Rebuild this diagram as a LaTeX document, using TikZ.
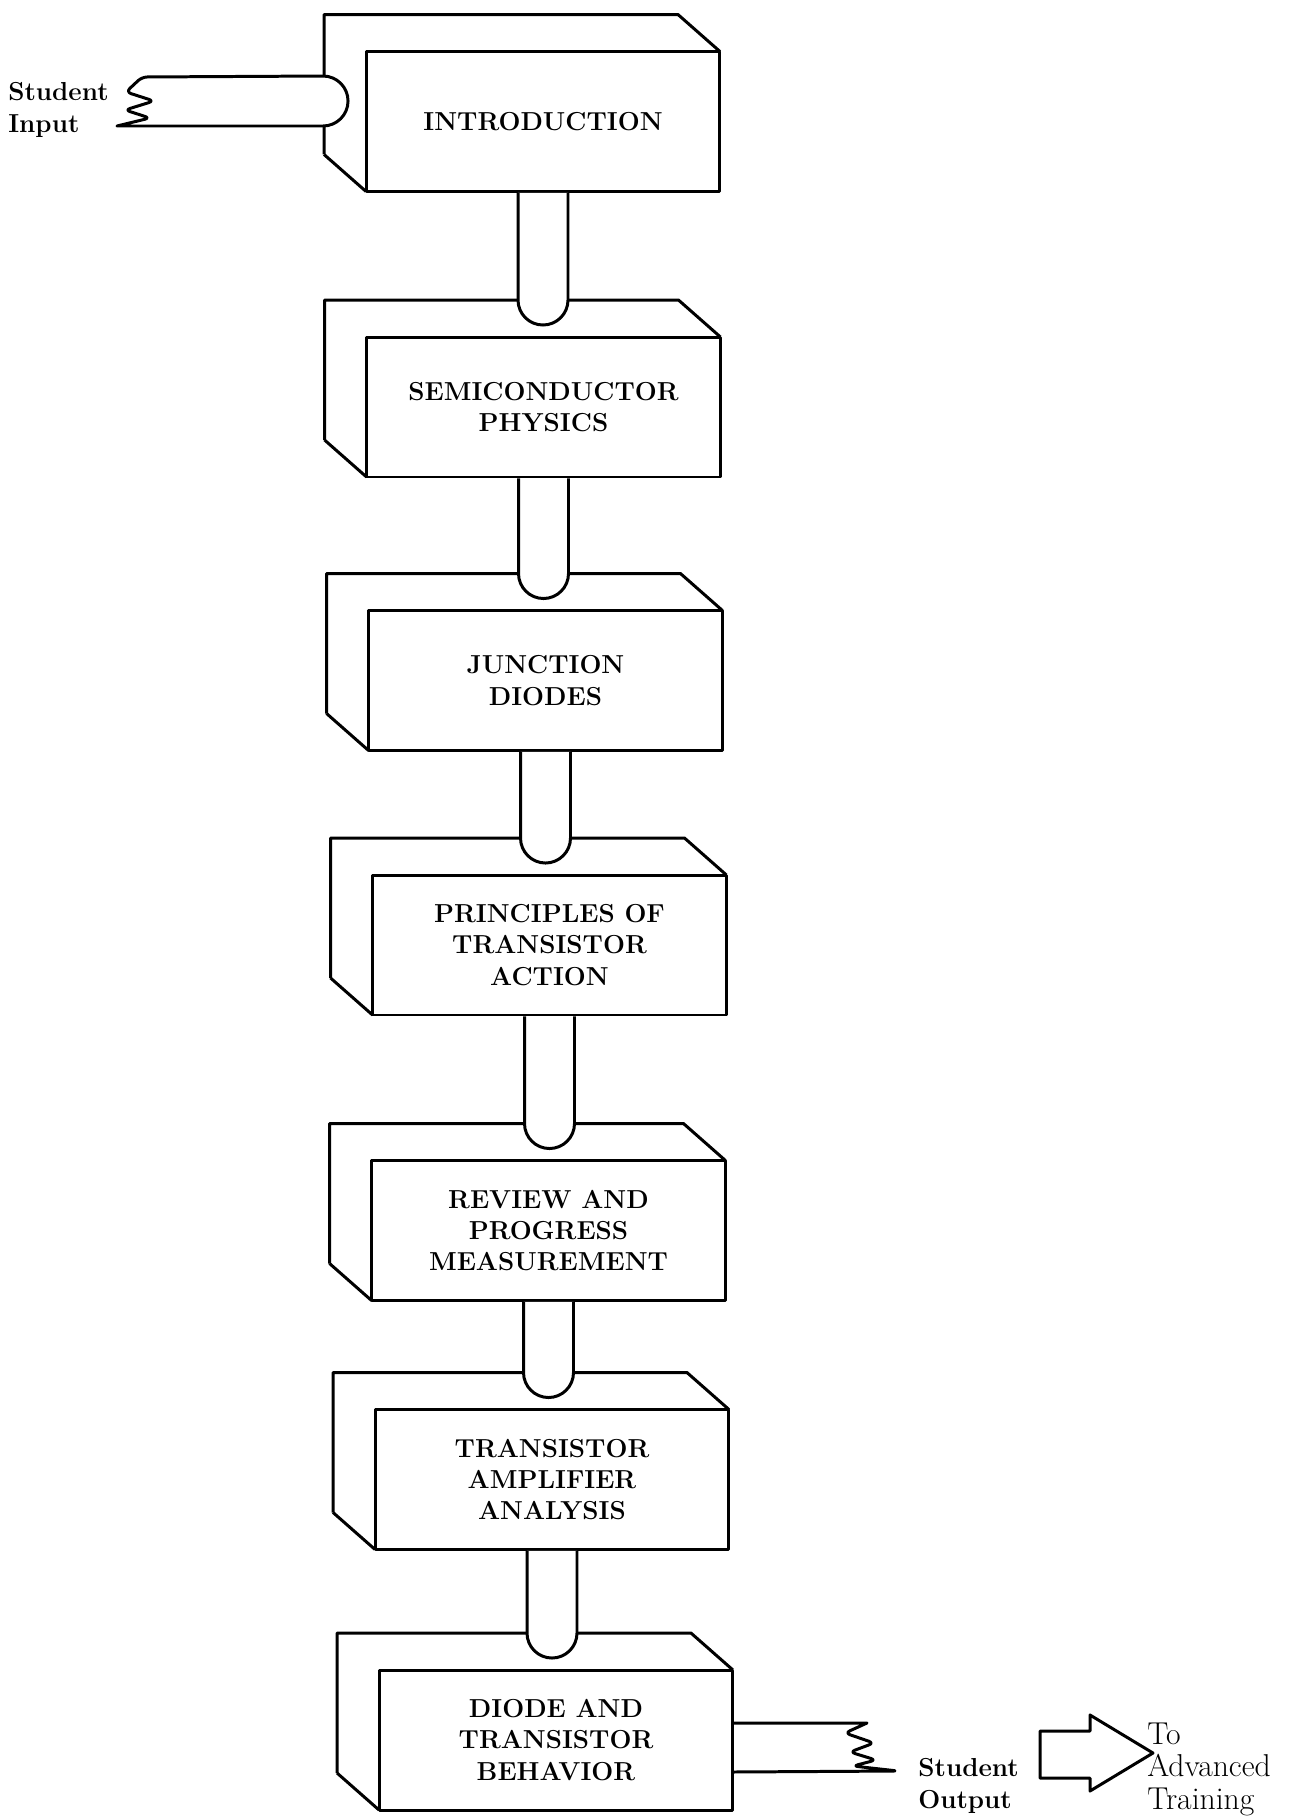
\documentclass[tikz,border=0pt]{standalone}
\usepackage{fontspec}
\usepackage{tikz}
% back face of a course unit, drawn up and to the left of the front face
\newcommand{\slabback}[1]{%
  \draw[boxline] ([xshift=-0.84cm,yshift=0.74cm]#1.south west) -- ([xshift=-0.84cm,yshift=0.74cm]#1.north west)
    -- ([xshift=-0.84cm,yshift=0.74cm]#1.north east) -- (#1.north east);
  \draw[boxline] ([xshift=-0.84cm,yshift=0.74cm]#1.south west) -- (#1.south west);}
% round ended tube from one unit down into the next
\newcommand{\tubelink}[2]{%
  \path (#1.south) ++(-0.5cm,-0.8pt) coordinate (stL)
        (#1.south) ++(0.5cm,-0.8pt) coordinate (stR)
        (#2.north) ++(0,0.74cm) coordinate (stB);
  \draw[boxline,fill=white] (stL) -- (stL |- stB) arc[start angle=180,end angle=360,radius=0.5cm] -- (stR);}

\begin{document}
\begin{tikzpicture}[x=0.02cm,y=-0.02cm,
  boxline/.style={line width=1.7pt,line join=round},
  unit/.style={boxline,draw,fill=white,outer sep=0pt,inner sep=0pt,
    minimum width=7.08cm,minimum height=2.8cm,align=center,
    font=\bfseries\fontsize{14.8}{17.8}\selectfont},
  lbl/.style={inner sep=0pt,align=left,font=\bfseries\fontsize{14.8}{18}\selectfont}]
\useasboundingbox (0,0) rectangle (1289,1816);
% \draw[help lines] (0,0) grid[step=100] (1289,1816);
\node (intro) [unit] at (543,121.5) {INTRODUCTION};
\node (semi) [unit] at (543.5,407) {SEMICONDUCTOR\\PHYSICS};
\node (junc) [unit] at (545.5,680.5) {JUNCTION\\DIODES};
\node (princ) [unit] at (549.5,945) {PRINCIPLES OF\\TRANSISTOR\\ACTION};
\node (review) [unit] at (548.5,1230.5) {REVIEW AND\\PROGRESS\\MEASUREMENT};
\node (ampl) [unit] at (552,1479.5) {TRANSISTOR\\AMPLIFIER\\ANALYSIS};
\node (behave) [unit] at (556,1740) {DIODE AND\\TRANSISTOR\\BEHAVIOR};
%
\slabback{intro}
\slabback{semi}
\slabback{junc}
\slabback{princ}
\slabback{review}
\slabback{ampl}
\slabback{behave}
%
\tubelink{intro}{semi}
\tubelink{semi}{junc}
\tubelink{junc}{princ}
\tubelink{princ}{review}
\tubelink{review}{ampl}
\tubelink{ampl}{behave}
%
\node (sin) [lbl,anchor=west] at (8,110) {Student\\Input};
\coordinate (inTop) at ([xshift=-0.86cm,yshift=0.91cm]intro.west);
\draw[boxline,fill=white] (142,77) -- (inTop) arc[start angle=90,end angle=-90,radius=0.5cm]
  -- (117,126) [rounded corners=3pt] -- (150,118) -- (125,110) -- (154,101) -- (126,92) -- cycle;
%
\node (sout) [lbl,anchor=west] at (918,1786) {Student\\Output};
\draw[boxline] ([yshift=0.34cm]behave.east) -- (867,1723) [rounded corners=3pt] -- (845,1733)
  -- (874,1743) -- (850,1752) -- (876,1760) -- (853,1766) -- (898,1771) [sharp corners]
  -- ([yshift=-0.64cm]behave.east);
%
\node (adv) [inner sep=0pt,anchor=west,align=left,font=\fontsize{18}{18.5}\selectfont]
  at (1147,1769) {To\\Advanced\\Training};
\draw[boxline] (1040,1731) -- (1090,1731) -- (1090,1715) -- (1153,1753) -- (1090,1791)
  -- (1090,1778) -- (1040,1778) -- cycle;
\end{tikzpicture}
\end{document}
